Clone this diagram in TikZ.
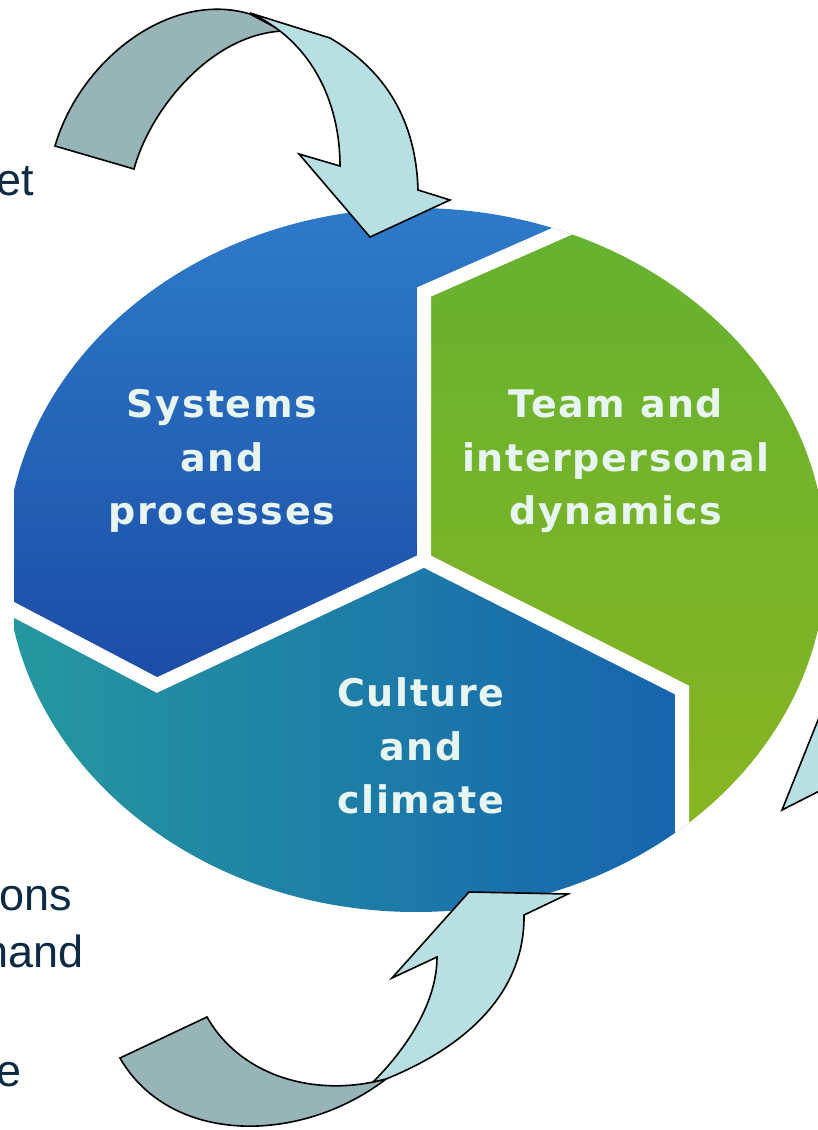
\documentclass[tikz,border=0pt]{standalone}
\usepackage{fontspec}
\usepackage{tikz}
\newfontfamily\segfont{DejaVu Sans}[LetterSpace=4]
\newfontfamily\sidefont{Liberation Sans}
\definecolor{wheelblueT}{RGB}{46,124,202}
\definecolor{wheelblueB}{RGB}{28,76,166}
\definecolor{wheelgreenT}{RGB}{98,178,50}
\definecolor{wheelgreenB}{RGB}{142,180,32}
\definecolor{wheeltealL}{RGB}{38,154,158}
\definecolor{wheeltealR}{RGB}{22,100,174}
\definecolor{labelwhite}{RGB}{232,246,242}
\definecolor{sidenavy}{RGB}{12,42,68}
\definecolor{arrowdark}{RGB}{151,180,182}
\definecolor{arrowlight}{RGB}{184,223,226}
\tikzset{
    segtext/.style={align=center, inner sep=0pt, text=labelwhite, font=\segfont\bfseries\fontsize{38}{53.5}\selectfont},
    sidetext/.style={anchor=base east, inner sep=0pt, text=sidenavy, font=\sidefont\fontsize{45}{54}\selectfont},
    gapline/.style={white, line width=14pt, line join=miter, line cap=round},
    bandback/.style={fill=arrowdark, draw=black, line width=1.6pt, line join=miter},
    bandfront/.style={fill=arrowlight, draw=black, line width=1.6pt, line join=miter},
}

\begin{document}
\begin{tikzpicture}[x=1pt, y=-1pt]
    \useasboundingbox (0,0) rectangle (818,1130);
    \clip (0,0) rectangle (818,1130);

    % the wheel: three cells cut by white gaps
    \begin{scope}
        \clip (14,200) rectangle (830,911);
        \clip (416,560) ellipse [x radius=410, y radius=352];
        \coordinate (hub) at (424,560);
        \coordinate (gapN) at (424,292);
        \coordinate (gapNE) at (640,197);
        \coordinate (gapSW) at (157,685);
        \coordinate (gapW) at (-20,592);
        \coordinate (gapSE) at (682,690);
        \coordinate (gapS) at (682,930);
        \shade[top color=wheelblueT, bottom color=wheelblueB]
            (hub) -- (gapN) -- (gapNE) -- (640,190) -- (-20,190) -- (gapW) -- (gapSW) -- cycle;
        \shade[top color=wheelgreenT, bottom color=wheelgreenB]
            (hub) -- (gapN) -- (gapNE) -- (840,150) -- (840,930) -- (gapS) -- (gapSE) -- cycle;
        \shade[left color=wheeltealL, right color=wheeltealR]
            (hub) -- (gapSW) -- (gapW) -- (-20,930) -- (gapS) -- (gapSE) -- cycle;
        \draw[gapline] (gapNE) -- (gapN) -- (hub) -- (gapSW) -- (gapW);
        \draw[gapline] (hub) -- (gapSE) -- (gapS);
    \end{scope}

    \node[segtext] (sysproc) at (222,461) {Systems\\and\\processes};
    \node[segtext] (teamdyn) at (616,461) {Team and\\interpersonal\\dynamics};
    \node[segtext] (cultclim) at (421,746) {Culture\\and\\climate};

    % text running off the left edge
    \node[sidetext] (txtEt) at (34.5,195) {et};
    \node[sidetext] (txtOns) at (72,910) {ons};
    \node[sidetext] (txtAnd) at (83.4,967) {nand};
    \node[sidetext] (txtE) at (21.5,1086) {e};

    % top curved arrow
    \filldraw[bandback] (55,146) .. controls (80,60) and (170,-10) .. (250,14)
        -- (282,31) .. controls (210,35) and (150,110) .. (134,169) -- cycle;
    \filldraw[bandfront] (250,13) .. controls (310,40) and (340,100) .. (340,166)
        -- (299,154) -- (370,237) -- (450,200) -- (418,190)
        .. controls (416,120) and (385,70) .. (330,38) -- cycle;

    % bottom curved arrow
    \filldraw[bandback] (120,1058) -- (207,1017) .. controls (240,1075) and (310,1095) .. (373,1082)
        -- (386,1079) .. controls (300,1145) and (170,1145) .. (120,1058) -- cycle;
    \filldraw[bandfront] (373,1082) .. controls (410,1045) and (437,1000) .. (437,957)
        -- (392,978) -- (469,892) -- (568,894) -- (524,915)
        .. controls (525,990) and (470,1045) .. (386,1079) -- cycle;

    % arrow tip coming in from the right
    \filldraw[bandfront] (830,690) -- (782,810) -- (845,778) -- (850,690) -- cycle;
\end{tikzpicture}
\end{document}
